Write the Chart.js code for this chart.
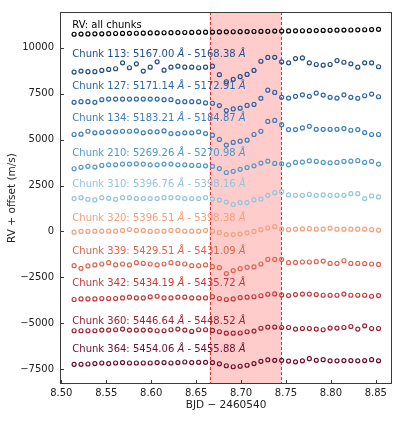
<!DOCTYPE html>
<html><head><meta charset="utf-8">
<script src="https://cdn.jsdelivr.net/npm/chart.js@4.4.0/dist/chart.umd.min.js"></script>
<style>html,body{margin:0;padding:0;background:#fff;}#wrap{width:400px;height:421px;}</style>
</head><body><div id="wrap"><canvas id="c" width="400" height="421"></canvas></div>
<script>
// Observation times (BJD - 2460540)
const times = [8.5142,8.5219,8.5296,8.5373,8.5450,8.5527,8.5604,8.5681,8.5758,8.5835,8.5912,8.5989,8.6066,8.6143,8.6220,8.6297,8.6374,8.6451,8.6528,8.6605,8.6682,8.6759,8.6836,8.6913,8.6990,8.7067,8.7144,8.7221,8.7298,8.7375,8.7452,8.7529,8.7606,8.7683,8.7760,8.7837,8.7914,8.7991,8.8068,8.8145,8.8222,8.8299,8.8376,8.8453,8.8530];

// RV + offset (m/s) per series
const rvAllChunks = [10730,10740,10745,10750,10755,10760,10770,10775,10780,10785,10790,10800,10800,10810,10815,10820,10825,10830,10840,10845,10850,10855,10860,10865,10870,10875,10880,10885,10890,10900,10905,10910,10915,10920,10925,10930,10940,10945,10950,10955,10960,10970,10975,10985,11000];
const chunk113 = [8670,8724,8691,8691,8761,8815,8852,9174,8906,9121,8724,8938,9228,8777,8938,8992,8938,8938,8906,8938,8992,8530,8144,8278,8423,8546,8761,9260,9469,9475,9228,9174,9405,9442,9174,9083,9045,9083,9298,9206,9121,8938,9174,9174,8960];
const chunk127 = [7028,7060,7060,7028,7168,7205,7205,7205,7205,7205,7205,7205,7205,7168,7168,7060,7060,7060,7060,6991,6975,6846,6578,6669,6706,6857,6910,7243,7688,7565,7296,7259,7350,7436,7350,7527,7420,7296,7259,7436,7296,7243,7382,7473,7329];
const chunk134 = [5274,5290,5451,5365,5381,5419,5419,5451,5451,5472,5365,5419,5419,5472,5327,5327,5365,5365,5419,5327,5236,5006,4700,4845,4914,4968,5274,5451,5987,6041,5810,5542,5542,5633,5719,5558,5558,5558,5558,5596,5505,5542,5381,5274,5274];
const chunk210 = [3412,3487,3541,3503,3595,3627,3627,3664,3664,3680,3664,3627,3627,3664,3664,3627,3627,3595,3595,3573,3541,3423,3208,3273,3380,3477,3573,3718,3825,3702,3680,3627,3756,3772,3841,3809,3756,3734,3756,3809,3825,3852,3756,3809,3664];
const chunk310 = [1787,1840,1749,1717,1840,1803,1749,1840,1840,1787,1787,1787,1787,1840,1840,1840,1787,1787,1787,1840,1760,1706,1599,1465,1572,1572,1717,1760,1964,2108,2162,1985,1964,1964,2017,1964,1985,1964,1964,1964,2055,2055,1787,1932,1878];
const chunk320 = [-38,0,0,16,16,16,16,54,107,54,54,0,16,16,54,54,16,16,16,54,16,-64,-172,-172,-145,-75,0,97,193,258,123,97,123,139,150,123,123,177,123,123,123,123,123,97,70];
const chunk339 = [-1862,-2007,-1878,-1824,-1770,-1701,-1824,-1770,-1824,-1701,-1738,-1770,-1824,-1770,-1701,-1738,-1770,-1862,-1862,-1824,-1915,-1969,-2291,-2130,-2023,-1953,-1931,-1770,-1524,-1524,-1524,-1701,-1685,-1663,-1663,-1647,-1610,-1738,-1738,-1593,-1738,-1738,-1754,-1770,-1792];
const chunk342 = [-3702,-3670,-3670,-3670,-3648,-3648,-3648,-3616,-3578,-3616,-3616,-3562,-3525,-3616,-3616,-3578,-3578,-3616,-3616,-3616,-3552,-3648,-3702,-3670,-3605,-3578,-3552,-3498,-3418,-3401,-3455,-3487,-3434,-3407,-3407,-3434,-3471,-3471,-3471,-3407,-3471,-3471,-3471,-3525,-3487];
const chunk360 = [-5402,-5402,-5402,-5402,-5365,-5365,-5349,-5311,-5365,-5365,-5365,-5365,-5402,-5402,-5349,-5311,-5365,-5440,-5349,-5349,-5386,-5456,-5537,-5537,-5526,-5456,-5419,-5268,-5204,-5204,-5226,-5226,-5311,-5279,-5279,-5311,-5349,-5258,-5258,-5226,-5172,-5311,-5134,-5279,-5279];
const chunk364 = [-7227,-7227,-7211,-7189,-7157,-7189,-7157,-7135,-7157,-7157,-7157,-7157,-7135,-7135,-7157,-7135,-7103,-7135,-7119,-7119,-7135,-7200,-7307,-7361,-7334,-7280,-7189,-7066,-6985,-7012,-7012,-7050,-7093,-7039,-6921,-7012,-6975,-7039,-7039,-7028,-7028,-7039,-7028,-6975,-7039];

const seriesValues = [rvAllChunks, chunk113, chunk127, chunk134, chunk210, chunk310, chunk320, chunk339, chunk342, chunk360, chunk364];
const seriesLabels = ["RV: all chunks","Chunk 113: 5167.00 Å - 5168.38 Å","Chunk 127: 5171.14 Å - 5172.91 Å","Chunk 134: 5183.21 Å - 5184.87 Å","Chunk 210: 5269.26 Å - 5270.98 Å","Chunk 310: 5396.76 Å - 5398.16 Å","Chunk 320: 5396.51 Å - 5398.38 Å","Chunk 339: 5429.51 Å - 5431.09 Å","Chunk 342: 5434.19 Å - 5435.72 Å","Chunk 360: 5446.64 Å - 5448.52 Å","Chunk 364: 5454.06 Å - 5455.88 Å"];
const seriesColors = ["#000000","#234e8a","#2c66a8","#3b7dbb","#4e98cb","#92c4e0","#f2a07c","#dc6450","#c4393c","#a01f36","#6d0d2a"];
const labelYValues = [11229,9657,7887,6132,4254,2554,730,-1111,-2843,-4920,-6438];
const labelXValue = 8.5122;

const shadeStart = 8.665, shadeEnd = 8.745;
const xTickValues = [8.50,8.55,8.60,8.65,8.70,8.75,8.80,8.85];
const xTickLabels = ["8.50","8.55","8.60","8.65","8.70","8.75","8.80","8.85"];
const yTickValues = [-7500,-5000,-2500,0,2500,5000,7500,10000];
const yTickLabels = ["\u22127500","\u22125000","\u22122500","0","2500","5000","7500","10000"];

const FONT = "'DejaVu Sans', sans-serif";

const decor = {
  id: 'decor',
  beforeDatasetsDraw(chart) {
    const {ctx, chartArea: a, scales: {x}} = chart;
    const x0 = x.getPixelForValue(shadeStart), x1 = x.getPixelForValue(shadeEnd);
    ctx.save();
    ctx.fillStyle = 'rgba(255,0,0,0.2)';
    ctx.fillRect(x0, a.top, x1 - x0, a.bottom - a.top);
    ctx.strokeStyle = '#e8282c';
    ctx.lineWidth = 1;
    ctx.setLineDash([3, 2]);
    [x0, x1].forEach(px => {
      ctx.beginPath(); ctx.moveTo(Math.round(px) + 0.5, a.top); ctx.lineTo(Math.round(px) + 0.5, a.bottom); ctx.stroke();
    });
    ctx.restore();
  },
  afterDatasetsDraw(chart) {
    const {ctx, chartArea: a, scales: {x, y}} = chart;
    ctx.save();
    ctx.textBaseline = 'middle';
    ctx.textAlign = 'left';
    seriesLabels.forEach((txt, i) => {
      let px = x.getPixelForValue(labelXValue);
      const py = y.getPixelForValue(labelYValues[i]);
      ctx.fillStyle = seriesColors[i];
      const parts = txt.split('Å');
      parts.forEach((p, k) => {
        ctx.font = '10px ' + FONT;
        ctx.fillText(p, px, py);
        px += ctx.measureText(p).width;
        if (k < parts.length - 1) {
          ctx.font = 'italic 10px ' + FONT;
          ctx.fillText('Å', px, py);
          px += ctx.measureText('Å').width;
        }
      });
    });
    ctx.strokeStyle = '#3a3a3a';
    ctx.lineWidth = 1;
    ctx.setLineDash([]);
    ctx.strokeRect(Math.round(a.left) + 0.5, Math.round(a.top) + 0.5, Math.round(a.right - a.left) - 1, Math.round(a.bottom - a.top) - 1);
    ctx.beginPath();
    xTickValues.forEach(v => {
      const px = Math.round(x.getPixelForValue(v)) + 0.5;
      ctx.moveTo(px, a.bottom); ctx.lineTo(px, a.bottom - 4);
    });
    yTickValues.forEach(v => {
      const py = Math.round(y.getPixelForValue(v)) + 0.5;
      ctx.moveTo(a.left, py); ctx.lineTo(a.left + 4, py);
    });
    ctx.stroke();
    ctx.restore();
  }
};

const datasets = seriesValues.map((vals, i) => ({
  label: seriesLabels[i],
  data: times.map((t, k) => ({x: t, y: vals[k]})),
  showLine: false,
  pointRadius: 2,
  pointBorderWidth: 1.2,
  pointBackgroundColor: 'rgba(0,0,0,0)',
  pointBorderColor: seriesColors[i],
  borderColor: seriesColors[i]
}));

new Chart(document.getElementById('c'), {
  type: 'scatter',
  data: {datasets},
  options: {
    responsive: false,
    animation: false,
    devicePixelRatio: 1,
    layout: {padding: {left: 0, right: 8, top: 7, bottom: 0}},
    plugins: {legend: {display: false}, tooltip: {enabled: false}},
    scales: {
      x: {
        type: 'linear', min: 8.4985, max: 8.868,
        afterBuildTicks: s => { s.ticks = xTickValues.map(v => ({value: v})); },
        afterFit: s => { s.height = 37; },
        ticks: {callback: (v, i) => xTickLabels[i], font: {size: 10, family: FONT}, color: '#222', padding: 3, maxRotation: 0, autoSkip: false},
        grid: {display: false, drawTicks: false},
        border: {display: false},
        title: {display: true, text: 'BJD \u2212 2460540', font: {size: 10.5, family: FONT}, color: '#222', padding: {top: 0, bottom: 9}}
      },
      y: {
        type: 'linear', min: -8300, max: 11940,
        afterBuildTicks: s => { s.ticks = yTickValues.map(v => ({value: v})); },
        afterFit: s => { s.width = 60; },
        ticks: {callback: (v, i) => yTickLabels[i], font: {size: 10, family: FONT}, color: '#222', padding: 6, autoSkip: false},
        grid: {display: false, drawTicks: false},
        border: {display: false},
        title: {display: true, text: 'RV + offset (m/s)', font: {size: 10.5, family: FONT}, color: '#222', padding: {top: 6, bottom: 0}}
      }
    }
  },
  plugins: [decor]
});
</script></body></html>
